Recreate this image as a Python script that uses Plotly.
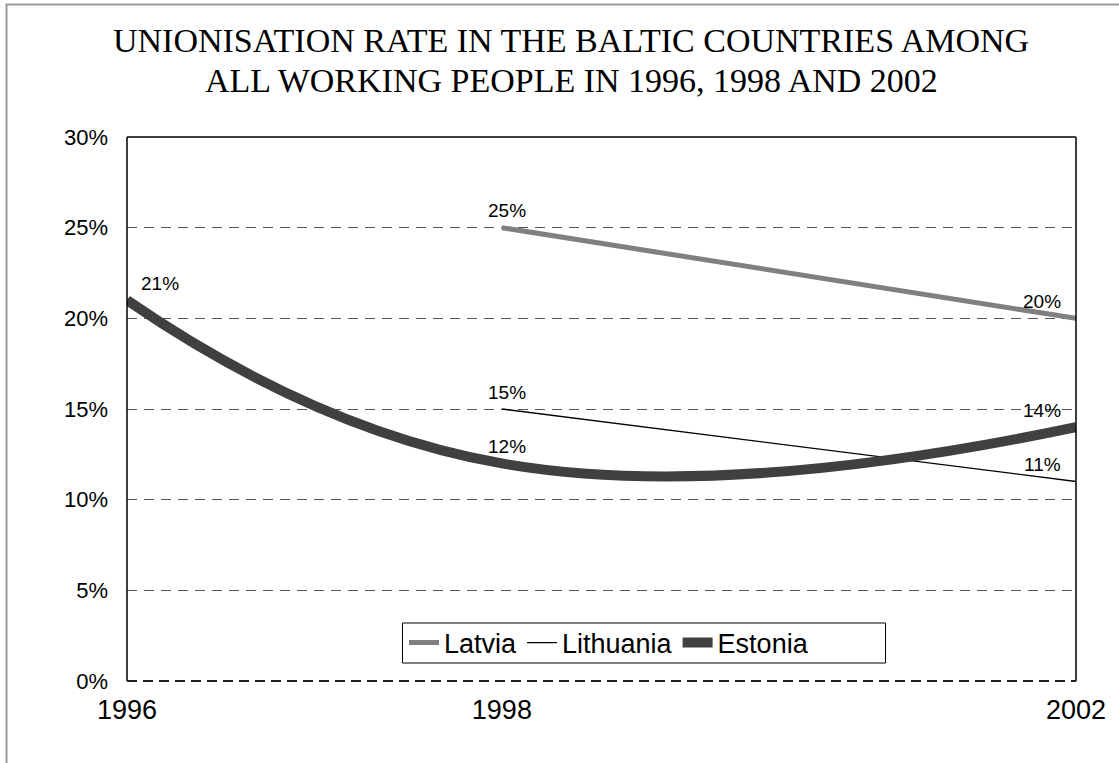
import plotly.graph_objects as go

# ---------------- data ----------------
years = ["1996", "1998", "2002"]
# horizontal position of each year on the reference's (non-linear) category axis, 0..1
year_axis_pos = [0.0, 0.395, 1.0]

latvia = [None, 25, 20]
lithuania = [None, 15, 11]
estonia = [21, 12, 14]

y_ticks = [0, 5, 10, 15, 20, 25, 30]
y_tick_labels = [f"{v}%" for v in y_ticks]

title_lines = ["UNIONISATION RATE IN THE BALTIC COUNTRIES AMONG",
               "ALL WORKING PEOPLE IN 1996, 1998 AND 2002"]

# ---------------- styling ----------------
SANS = "Liberation Sans, Arial, sans-serif"
SERIF = "Liberation Serif, Times New Roman, serif"

W, H = 1119, 763
L, R, T, B = 127, 1076, 137, 681   # plot area in pixels
PW, PH = R - L, B - T


def px_x(px):
    return (px - L) / PW


def px_y(py):
    return (B - py) / PH


series = [
    ("Latvia", latvia, dict(color="#808080", width=5), "linear"),
    ("Lithuania", lithuania, dict(color="#000000", width=1.3), "linear"),
    ("Estonia", estonia, dict(color="#404040", width=10), "spline"),
]

fig = go.Figure()
for name, vals, line, shape in series:
    fig.add_trace(go.Scatter(
        x=year_axis_pos, y=vals, name=name, mode="lines",
        line=dict(color=line["color"], width=line["width"], shape=shape,
                  smoothing=1.3 if shape == "spline" else None),
        connectgaps=False,
    ))

# data labels (offsets are presentation only)
label_dx = [33, 5, -34]
label_dy = 17
annotations = []
for name, vals, line, shape in series:
    for i, v in enumerate(vals):
        if v is None:
            continue
        annotations.append(dict(
            x=year_axis_pos[i], y=v, xref="x", yref="y", text=f"{v}%",
            showarrow=False, xshift=label_dx[i], yshift=label_dy,
            font=dict(family=SANS, size=19, color="#000000"),
        ))

# title, two centred lines
for text, py in zip(title_lines, [41, 81]):
    annotations.append(dict(
        x=px_x(571), y=px_y(py), xref="paper", yref="paper", text=text,
        showarrow=False, xanchor="center", yanchor="middle",
        font=dict(family=SERIF, size=34, color="#000000"),
    ))

shapes = [
    # outer chart border (grey)
    dict(type="rect", xref="paper", yref="paper",
         x0=px_x(6.5), x1=2.0, y0=-2.0, y1=px_y(4.5),
         line=dict(color="#9a9a9a", width=2), fillcolor="rgba(0,0,0,0)", layer="below"),
    # plot frame: left, top, right solid
    dict(type="line", xref="paper", yref="paper", x0=0, x1=0, y0=0, y1=1,
         line=dict(color="#000000", width=1.5)),
    dict(type="line", xref="paper", yref="paper", x0=0, x1=1, y0=1, y1=1,
         line=dict(color="#000000", width=1.5)),
    dict(type="line", xref="paper", yref="paper", x0=1, x1=1, y0=0, y1=1,
         line=dict(color="#000000", width=1.5)),
    # bottom axis line (dashed, dark)
    dict(type="line", xref="paper", yref="paper", x0=0, x1=1, y0=0, y1=0,
         line=dict(color="#222222", width=2, dash="10px,6px")),
    # legend box
    dict(type="rect", xref="paper", yref="paper",
         x0=px_x(402.5), x1=px_x(885.5), y0=px_y(663), y1=px_y(623),
         line=dict(color="#000000", width=1), fillcolor="#ffffff", layer="above"),
]

fig.update_layout(
    width=W, height=H,
    margin=dict(l=L, r=W - R, t=T, b=H - B),
    paper_bgcolor="#ffffff", plot_bgcolor="#ffffff",
    showlegend=True,
    legend=dict(orientation="h", x=px_x(404), xanchor="left",
                y=px_y(643), yanchor="middle",
                bgcolor="rgba(0,0,0,0)", borderwidth=0,
                font=dict(family=SANS, size=27, color="#000000"),
                itemwidth=30, tracegroupgap=0),
    annotations=annotations,
    shapes=shapes,
)

fig.update_xaxes(
    range=[0, 1], tickmode="array", tickvals=year_axis_pos, ticktext=years,
    showgrid=False, zeroline=False, showline=False, ticks="",
    ticklabelstandoff=10,
    tickfont=dict(family=SANS, size=27, color="#000000"),
)
fig.update_yaxes(
    range=[0, 30], tickmode="array", tickvals=y_ticks, ticktext=y_tick_labels,
    showgrid=True, gridcolor="#555555", gridwidth=1, griddash="10px,7px",
    zeroline=False, showline=False, ticks="",
    ticklabelstandoff=18,
    tickfont=dict(family=SANS, size=22, color="#000000"),
)

fig.write_html("out.html")
